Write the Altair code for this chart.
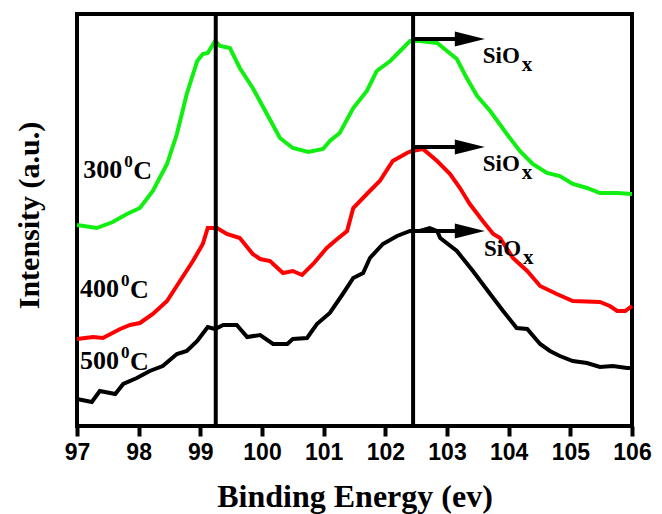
import altair as alt
import pandas as pd

# ---- data ----
energy_300 = [97.00, 97.32, 97.58, 97.81, 98.02, 98.23, 98.46, 98.62, 98.78, 98.95, 99.04, 99.12, 99.24,
              99.32, 99.48, 99.64, 99.85, 100.08, 100.29, 100.50, 100.75, 100.99, 101.10, 101.26, 101.48,
              101.70, 101.86, 102.08, 102.24, 102.40, 102.56, 102.84, 103.00, 103.16, 103.32, 103.49,
              103.70, 103.97, 104.18, 104.39, 104.62, 104.83, 105.04, 105.27, 105.48, 105.76, 106.00]
int_300 = [201, 198, 204, 212, 218, 235, 262, 292, 332, 365, 372, 373, 385,
           380, 378, 358, 338, 312, 288, 278, 274, 277, 285, 293, 318,
           335, 355, 365, 375, 385, 385, 383, 375, 367, 348, 330,
           315, 292, 275, 262, 253, 250, 242, 238, 233, 233, 232]

energy_400 = [97.00, 97.26, 97.42, 97.70, 97.86, 98.02, 98.23, 98.46, 98.67, 98.88, 99.04, 99.12, 99.27,
              99.43, 99.64, 99.85, 99.97, 100.13, 100.34, 100.50, 100.65, 100.83, 101.05, 101.22, 101.38,
              101.48, 101.70, 101.91, 102.12, 102.35, 102.43, 102.61, 102.84, 103.05, 103.21, 103.37,
              103.58, 103.75, 103.86, 104.07, 104.30, 104.51, 104.78, 105.04, 105.48, 105.64, 105.76,
              105.89, 106.00]
int_400 = [87, 89, 88, 97, 101, 103, 112, 125, 145, 165, 182, 198, 198,
           192, 188, 172, 167, 165, 153, 155, 151, 162, 178, 187, 195,
           218, 232, 245, 265, 273, 275, 277, 265, 252, 238, 222,
           205, 192, 188, 168, 155, 140, 132, 125, 124, 120, 115,
           115, 120]

energy_500 = [97.00, 97.24, 97.37, 97.62, 97.75, 97.97, 98.18, 98.39, 98.62, 98.78, 98.95, 99.12, 99.24,
              99.37, 99.59, 99.76, 99.97, 100.18, 100.41, 100.50, 100.73, 100.89, 101.10, 101.31, 101.48,
              101.64, 101.75, 101.96, 102.19, 102.40, 102.56, 102.72, 102.84, 102.89, 103.16, 103.42,
              103.70, 103.91, 104.13, 104.30, 104.51, 104.67, 104.83, 105.04, 105.27, 105.48, 105.69,
              105.92, 106.00]
int_500 = [27, 24, 35, 32, 42, 48, 55, 60, 72, 75, 85, 99, 97,
           101, 101, 89, 91, 82, 82, 87, 88, 102, 113, 132, 148,
           153, 168, 182, 190, 195, 195, 198, 195, 188, 175, 155,
           132, 115, 98, 97, 82, 75, 70, 65, 63, 59, 60,
           58, 58]

series_names = ["300", "400", "500"]
series_colors = ["#11ee11", "#ff0000", "#000000"]

ref_lines = [99.25, 102.45]

arrow_y = [387, 279, 195]
arrow_start = [102.45, 102.45, 102.45]
arrow_end = [103.2, 103.2, 103.2]
arrow_head = [103.37, 103.37, 103.37]

siox_x = [103.58, 103.58, 103.60]
siox_y = [370, 262, 177]

temp_x = [97.10, 97.05, 97.05]
temp_y = [256, 137, 65]

x_ticks = list(range(97, 107))

# ---- tables ----
rows = []
for name, es, vs in zip(series_names, [energy_300, energy_400, energy_500], [int_300, int_400, int_500]):
    for i, (e, v) in enumerate(zip(es, vs)):
        rows.append({"series": name, "energy": e, "intensity": v, "order": i})
curves = pd.DataFrame(rows)

refs = pd.DataFrame({"energy": ref_lines})
arrows = pd.DataFrame({"energy": arrow_start, "energy2": arrow_end, "head": arrow_head, "intensity": arrow_y})
siox = pd.DataFrame({"energy": siox_x, "intensity": siox_y, "t": ["SiO"] * 3, "sub": ["x"] * 3})
temps = pd.DataFrame({"energy": temp_x, "intensity": temp_y, "t": series_names})

xscale = alt.Scale(domain=[97, 106], nice=False, zero=False)
yscale = alt.Scale(domain=[0, 412], nice=False, zero=False)

x_axis = alt.Axis(values=x_ticks, format="d", titleX=277.5, titleY=80)
y_axis = alt.Axis(titleX=-48, titleY=201)


def X(field):
    return alt.X(field, type="quantitative", scale=xscale, axis=x_axis, title="Binding Energy (ev)")


def Y(field):
    return alt.Y(field, type="quantitative", scale=yscale, axis=y_axis, title="Intensity (a.u.)")


lines = alt.Chart(curves).mark_line(strokeWidth=4, interpolate="linear").encode(
    x=X("energy"),
    y=Y("intensity"),
    color=alt.Color("series:N", scale=alt.Scale(domain=series_names, range=series_colors), legend=None),
    order="order:Q",
)

vrules = alt.Chart(refs).mark_rule(color="black", strokeWidth=4).encode(
    x=X("energy"),
)

shafts = alt.Chart(arrows).mark_rule(color="black", strokeWidth=4).encode(
    x=X("energy"),
    x2="energy2:Q",
    y=Y("intensity"),
)

heads = alt.Chart(arrows).mark_point(shape="M-1,-0.5L1,0L-1,0.5Z", filled=True, size=900,
                                     color="black", opacity=1, strokeWidth=0).encode(
    x=X("head"),
    y=Y("intensity"),
)

siox_main = alt.Chart(siox).mark_text(align="left", baseline="middle", font="Liberation Serif",
                                      fontWeight="bold", fontSize=23, color="black").encode(
    x=X("energy"), y=Y("intensity"), text="t:N",
)
siox_sub = alt.Chart(siox).mark_text(align="left", baseline="middle", font="Liberation Serif",
                                     fontWeight="bold", fontSize=21, color="black", dx=39, dy=9).encode(
    x=X("energy"), y=Y("intensity"), text="sub:N",
)

temp_main = alt.Chart(temps).mark_text(align="left", baseline="middle", font="Liberation Serif",
                                       fontWeight="bold", fontSize=26, color="black").encode(
    x=X("energy"), y=Y("intensity"), text="t:N",
)
temp_sup = alt.Chart(temps).mark_text(align="left", baseline="middle", font="Liberation Serif",
                                      fontWeight="bold", fontSize=17, color="black", dx=41, dy=-8).encode(
    x=X("energy"), y=Y("intensity"), text=alt.value("0"),
)
temp_c = alt.Chart(temps).mark_text(align="left", baseline="middle", font="Liberation Serif",
                                    fontWeight="bold", fontSize=26, color="black", dx=50, dy=1).encode(
    x=X("energy"), y=Y("intensity"), text=alt.value("C"),
)

chart = alt.layer(lines, vrules, shafts, heads, siox_main, siox_sub,
                  temp_main, temp_sup, temp_c).properties(
    width=555, height=412,
    autosize=alt.AutoSizeParams(type="none"),
    padding={"left": 69, "top": 6, "right": 22, "bottom": 88},
    background="white",
).configure_view(
    stroke="black", strokeWidth=4
).configure_axis(
    zindex=1,
).configure_axisX(
    grid=False, domain=False, ticks=True, tickColor="black", tickWidth=4, tickSize=10, tickOffset=0,
    labelFlush=False, labelOverlap=False,
    labelFont="Liberation Sans", labelFontWeight="bold", labelFontSize=23, labelColor="black",
    labelPadding=5, labelBaseline="top",
    titleFont="Liberation Serif", titleFontWeight="bold", titleFontSize=32, titleColor="black",
    titleAlign="center", titleBaseline="alphabetic",
).configure_axisY(
    grid=False, domain=False, ticks=False, labels=False,
    titleFont="Liberation Serif", titleFontWeight="bold", titleFontSize=30, titleColor="black",
    titleAngle=-90, titleAlign="center", titleBaseline="middle",
)

chart.save("out.html", embed_options={"renderer": "svg", "actions": False})
